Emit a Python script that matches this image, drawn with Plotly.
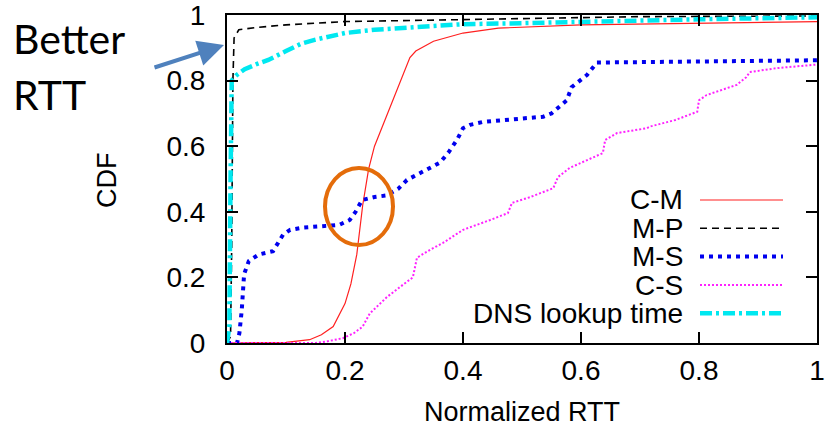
import plotly.graph_objects as go

# ---------------- data ----------------
cm_x = [0, 0.1, 0.14, 0.16, 0.18, 0.2, 0.21, 0.22, 0.23, 0.24, 0.25, 0.27, 0.29, 0.31, 0.32, 0.35, 0.4, 0.46, 0.6, 0.8, 1.0]
cm_y = [0, 0.002, 0.01, 0.025, 0.05, 0.12, 0.18, 0.27, 0.42, 0.53, 0.6, 0.69, 0.78, 0.87, 0.89, 0.92, 0.945, 0.96, 0.97, 0.975, 0.98]

mp_x = [0, 0.006, 0.008, 0.01, 0.012, 0.02, 0.05, 0.1, 0.2, 0.35, 0.5, 0.7, 1.0]
mp_y = [0, 0.02, 0.3, 0.8, 0.93, 0.955, 0.962, 0.97, 0.98, 0.985, 0.99, 0.995, 0.997]

ms_x = [0, 0.017, 0.021, 0.025, 0.029, 0.037, 0.054, 0.078, 0.095, 0.107, 0.13, 0.163, 0.19, 0.208,
        0.218, 0.229, 0.25, 0.271, 0.29, 0.305, 0.335, 0.361, 0.375, 0.39, 0.40, 0.412, 0.434, 0.48,
        0.536, 0.55, 0.564, 0.576, 0.584, 0.61, 0.627, 0.7, 0.8, 0.9, 1.0]
ms_y = [0, 0, 0.03, 0.1, 0.21, 0.25, 0.27, 0.28, 0.33, 0.345, 0.352, 0.356, 0.36, 0.375,
        0.4, 0.436, 0.445, 0.45, 0.47, 0.497, 0.525, 0.55, 0.58, 0.62, 0.655, 0.665, 0.674, 0.68,
        0.69, 0.7, 0.72, 0.74, 0.78, 0.817, 0.855, 0.856, 0.858, 0.86, 0.862]

cs_x = [0, 0.15, 0.17, 0.197, 0.215, 0.23, 0.242, 0.271, 0.3, 0.315, 0.322, 0.345, 0.366, 0.4, 0.446,
        0.476, 0.483, 0.514, 0.553, 0.561, 0.581, 0.62, 0.637, 0.641, 0.661, 0.712, 0.717, 0.76, 0.797,
        0.80, 0.813, 0.864, 0.88, 0.886, 0.932, 1.0]
cs_y = [0, 0, 0.005, 0.015, 0.03, 0.05, 0.09, 0.14, 0.18, 0.2, 0.26, 0.285, 0.305, 0.345, 0.375,
        0.396, 0.427, 0.445, 0.472, 0.506, 0.534, 0.564, 0.579, 0.619, 0.64, 0.655, 0.66, 0.68, 0.705,
        0.74, 0.756, 0.787, 0.81, 0.826, 0.838, 0.849]

dns_x = [0, 0.004, 0.006, 0.008, 0.015, 0.03, 0.05, 0.07, 0.1, 0.125, 0.15, 0.2, 0.25, 0.3, 0.4, 0.5, 0.6, 0.8, 1.0]
dns_y = [0, 0.05, 0.5, 0.8, 0.815, 0.835, 0.85, 0.863, 0.89, 0.912, 0.925, 0.945, 0.955, 0.96, 0.972, 0.975, 0.98, 0.987, 0.993]

tick_vals = [0, 0.2, 0.4, 0.6, 0.8, 1]
tick_text = ["0", "0.2", "0.4", "0.6", "0.8", "1"]

series_names = ["C-M", "M-P", "M-S", "C-S", "DNS lookup time"]
series_x = [cm_x, mp_x, ms_x, cs_x, dns_x]
series_y = [cm_y, mp_y, ms_y, cs_y, dns_y]

# ---------------- styles ----------------
styles = [
    dict(color="#ff2020", width=1.2, dash="solid"),
    dict(color="#000000", width=1.6, dash="7px,5px"),
    dict(color="#0000ee", width=4, dash="4px,5px"),
    dict(color="#ff22ff", width=2, dash="2px,2px"),
    dict(color="#00e8f0", width=4.5, dash="12px,4px,3px,4px"),
]

FONT = "Liberation Sans, Arial, sans-serif"

fig = go.Figure()
for name, xs, ys, st in zip(series_names, series_x, series_y, styles):
    fig.add_trace(go.Scatter(x=xs, y=ys, mode="lines", name=name, line=st,
                             showlegend=False, cliponaxis=True))

# page-pixel geometry of the plot area (body margin removed in the page)
L, R, T, B = 227, 817, 15, 343
W, H = 825, 430
def px(xp):
    return (xp - L) / (R - L)
def py(yp):
    return (B - yp) / (B - T)

shapes = []
annotations = []

# manual gnuplot-style legend (text left, sample right)
rows = [200, 228.3, 256.6, 285, 313.3]
for name, st, ry in zip(series_names, styles, rows):
    annotations.append(dict(xref="paper", yref="paper", x=px(685), y=py(ry),
                            text=name, showarrow=False, xanchor="right", yanchor="middle",
                            font=dict(family=FONT, size=28, color="black")))
    shapes.append(dict(type="line", xref="paper", yref="paper",
                       x0=px(700), x1=px(783), y0=py(ry), y1=py(ry),
                       line=dict(color=st["color"], width=st["width"], dash=st["dash"])))

# orange circle highlight
shapes.append(dict(type="circle", xref="paper", yref="paper",
                   x0=px(325), x1=px(393), y0=py(245), y1=py(168),
                   line=dict(color="#e46c0a", width=4)))

# "Better RTT" text and arrow
annotations.append(dict(xref="paper", yref="paper", x=px(11), y=py(39), text="Better",
                        showarrow=False, xanchor="left", yanchor="middle",
                        font=dict(family="Lato, Noto Sans, sans-serif", size=41, color="black")))
annotations.append(dict(xref="paper", yref="paper", x=px(11), y=py(94), text="RTT",
                        showarrow=False, xanchor="left", yanchor="middle",
                        font=dict(family="Lato, Noto Sans, sans-serif", size=41, color="black")))
annotations.append(dict(xref="paper", yref="paper", x=px(224), y=py(45), text="",
                        showarrow=True, axref="pixel", ayref="pixel", ax=-71, ay=23,
                        arrowhead=2, arrowsize=1.3, arrowwidth=4, arrowcolor="#4f81bd"))

# axis titles as annotations (fixed positions)
annotations.append(dict(xref="paper", yref="paper", x=px(522), y=py(412), text="Normalized RTT",
                        showarrow=False, xanchor="center", yanchor="middle",
                        font=dict(family=FONT, size=27, color="black")))
annotations.append(dict(xref="paper", yref="paper", x=px(107), y=py(180), text="CDF",
                        showarrow=False, xanchor="center", yanchor="middle", textangle=-90,
                        font=dict(family=FONT, size=27, color="black")))

axis_common = dict(range=[0, 1], tickvals=tick_vals, ticktext=tick_text,
                   ticks="inside", ticklen=11, tickwidth=2, tickcolor="black",
                   showline=True, linewidth=2, linecolor="black", mirror="ticks",
                   showgrid=False, zeroline=False, automargin=False,
                   ticklabeloverflow="allow",
                   tickfont=dict(family=FONT, size=28, color="black"))

fig.update_layout(
    width=W, height=H,
    margin=dict(l=L, r=W - R, t=T, b=H - B, autoexpand=False),
    paper_bgcolor="white", plot_bgcolor="white",
    xaxis=dict(**axis_common, ticklabelstandoff=1),
    yaxis=dict(**axis_common, ticklabelstandoff=14),
    shapes=shapes, annotations=annotations,
)

fig.write_html("out.html",
               config={"displayModeBar": False},
               post_script="document.body.style.margin='0px';document.body.style.overflow='hidden';")
